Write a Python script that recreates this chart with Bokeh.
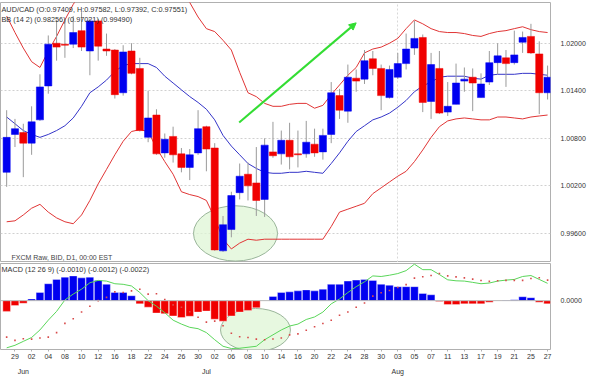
from bokeh.plotting import figure
from bokeh.layouts import column
from bokeh.models import (Range1d, LinearAxis, FixedTicker, Label, Arrow, NormalHead,
                          PrintfTickFormatter, ColumnDataSource, Span)
from bokeh.embed import file_html
from bokeh.resources import INLINE

# ---------------- data ----------------
tick_labels = ["29", "02", "04", "08", "10", "12", "16", "18", "22", "24", "26", "30",
               "02", "06", "08", "10", "14", "16", "20", "22", "24", "28", "30",
               "03", "05", "07", "11", "13", "17", "19", "21", "25", "27"]
tick_index = list(range(1, 66, 2))
month_labels = ["Jun", "Jul", "Aug"]
month_index = [2, 24, 47]

opens = [1.00371, 1.00849, 1.00873, 1.00739, 1.01033, 1.01461, 1.02000, 1.01988, 1.01988, 1.02159,
         1.01902, 1.02282, 1.01927, 1.01914, 1.01375, 1.01902, 1.01682, 1.00812, 1.01094, 1.00616,
         1.00824, 1.00604, 1.00433, 1.00616, 1.00947, 1.00678, 0.99380, 0.99649, 1.00114, 1.00347,
         1.00237, 1.00029, 1.00629, 1.00604, 1.00775, 1.00604, 1.00604, 1.00726, 1.00629, 1.00849,
         1.01339, 1.01143, 1.01559, 1.01547, 1.01804, 1.01682, 1.01314, 1.01571, 1.01743, 1.01939,
         1.02073, 1.01265, 1.01682, 1.01131, 1.01229, 1.01522, 1.01571, 1.01314, 1.01510, 1.01755,
         1.01816, 1.01755, 1.02012, 1.02086, 1.01865, 1.01375]
highs = [1.01155, 1.01045, 1.00984, 1.01204, 1.01608, 1.02098, 1.02294, 1.02306, 1.02343, 1.02392,
         1.02306, 1.02306, 1.02122, 1.01927, 1.01975, 1.02000, 1.01816, 1.01400, 1.01167, 1.00861,
         1.00947, 1.00678, 1.00665, 1.01155, 1.00959, 1.00739, 0.99820, 1.00126, 1.00482, 1.00494,
         1.00690, 1.00800, 1.01008, 1.00898, 1.00996, 1.00898, 1.01020, 1.00922, 1.00922, 1.01510,
         1.01424, 1.01731, 1.01669, 1.01914, 1.01902, 1.01731, 1.01718, 1.01878, 1.02122, 1.02282,
         1.02110, 1.01878, 1.01902, 1.01510, 1.01743, 1.01694, 1.01682, 1.01620, 1.01902, 1.02000,
         1.01914, 1.02159, 1.02147, 1.02245, 1.02024, 1.01718]
lows = [1.00188, 1.00690, 1.00310, 1.00592, 1.01020, 1.01363, 1.01780, 1.01816, 1.01939, 1.01902,
        1.01596, 1.01780, 1.01841, 1.01302, 1.01339, 1.01608, 1.00886, 1.00751, 1.00592, 1.00555,
        1.00494, 1.00371, 1.00273, 1.00592, 1.00384, 0.99380, 0.99367, 0.99551, 1.00029, 1.00016,
        0.99820, 0.99808, 1.00555, 1.00469, 1.00408, 1.00433, 1.00555, 1.00567, 1.00531, 1.00739,
        1.01045, 1.00996, 1.01388, 1.01486, 1.01596, 1.01155, 1.01302, 1.01547, 1.01669, 1.01853,
        1.01131, 1.01045, 1.01106, 1.01082, 1.01229, 1.01388, 1.01143, 1.01314, 1.01473, 1.01608,
        1.01449, 1.01731, 1.01878, 1.01865, 1.01106, 1.01290]
closes = [1.00812, 1.00922, 1.00739, 1.01008, 1.01449, 1.01988, 1.01951, 1.01975, 1.02135, 1.01951,
          1.02282, 1.01963, 1.01902, 1.01351, 1.01890, 1.01620, 1.00898, 1.01057, 1.00604, 1.00788,
          1.00592, 1.00433, 1.00592, 1.00922, 1.00665, 0.99392, 0.99710, 1.00078, 1.00322, 1.00200,
          1.00016, 1.00714, 1.00580, 1.00775, 1.00567, 1.00592, 1.00751, 1.00616, 1.00837, 1.01375,
          1.01155, 1.01571, 1.01522, 1.01780, 1.01682, 1.01339, 1.01669, 1.01743, 1.01927, 1.02061,
          1.01253, 1.01731, 1.01118, 1.01204, 1.01498, 1.01547, 1.01498, 1.01486, 1.01755, 1.01841,
          1.01743, 1.01853, 1.02073, 1.01878, 1.01375, 1.01571]

bb_upper = [1.02343, 1.02135, 1.01939, 1.01767, 1.01694, 1.01902, 1.02086, 1.02294, 1.02490, 1.02649,
            1.02796, 1.02918, 1.02980, 1.03016, 1.03041, 1.03041, 1.03016, 1.02980, 1.02918, 1.02820,
            1.02735, 1.02637, 1.02514, 1.02331, 1.02184, 1.02147, 1.02037, 1.01914, 1.01633, 1.01375,
            1.01326, 1.01241, 1.01204, 1.01204, 1.01229, 1.01241, 1.01241, 1.01180, 1.01216, 1.01351,
            1.01473, 1.01596, 1.01694, 1.01878, 1.01927, 1.01951, 1.02000, 1.02061, 1.02184, 1.02294,
            1.02245, 1.02184, 1.02147, 1.02135, 1.02135, 1.02122, 1.02098, 1.02086, 1.02122, 1.02147,
            1.02159, 1.02184, 1.02208, 1.02171, 1.02147, 1.02135]
bb_mid = [1.01069, 1.00984, 1.00898, 1.00849, 1.00812, 1.00849, 1.00898, 1.00959, 1.01057, 1.01204,
          1.01375, 1.01449, 1.01535, 1.01645, 1.01718, 1.01743, 1.01743, 1.01743, 1.01694, 1.01584,
          1.01498, 1.01412, 1.01327, 1.01253, 1.01167, 1.01033, 1.00837, 1.00702, 1.00592, 1.00482,
          1.00420, 1.00371, 1.00359, 1.00359, 1.00371, 1.00371, 1.00384, 1.00371, 1.00359, 1.00482,
          1.00616, 1.00763, 1.00886, 1.00959, 1.01033, 1.01069, 1.01118, 1.01192, 1.01278, 1.01388,
          1.01461, 1.01510, 1.01571, 1.01584, 1.01584, 1.01584, 1.01559, 1.01547, 1.01596, 1.01608,
          1.01608, 1.01608, 1.01620, 1.01620, 1.01608, 1.01596]
bb_lower = [0.99747, 0.99759, 0.99833, 0.99918, 0.99967, 0.99869, 0.99796, 0.99747, 0.99722, 0.99833,
            1.00016, 1.00225, 1.00408, 1.00592, 1.00763, 1.00886, 1.00910, 1.00886, 1.00678, 1.00506,
            1.00347, 1.00126, 1.00090, 1.00065, 1.00016, 0.99796, 0.99527, 0.99404, 0.99478, 0.99527,
            0.99514, 0.99527, 0.99527, 0.99527, 0.99527, 0.99527, 0.99527, 0.99527, 0.99527, 0.99686,
            0.99869, 0.99906, 0.99943, 0.99980, 1.00102, 1.00175, 1.00249, 1.00322, 1.00384, 1.00506,
            1.00653, 1.00812, 1.00947, 1.01020, 1.01045, 1.01057, 1.01045, 1.01033, 1.01033, 1.01069,
            1.01069, 1.01057, 1.01045, 1.01069, 1.01082, 1.01094]

macd = [-0.00483, -0.00457, -0.00417, -0.00377, -0.00300, -0.00200, -0.00110, 0.00007, 0.00067, 0.00117,
        0.00183, 0.00207, 0.00200, 0.00173, 0.00167, 0.00150, 0.00083, 0.00000, -0.00057, -0.00123,
        -0.00200, -0.00240, -0.00273, -0.00287, -0.00327, -0.00400, -0.00467, -0.00490, -0.00487, -0.00477,
        -0.00467, -0.00400, -0.00350, -0.00300, -0.00260, -0.00240, -0.00193, -0.00167, -0.00117, -0.00033,
        0.00017, 0.00083, 0.00143, 0.00193, 0.00253, 0.00247, 0.00260, 0.00277, 0.00307, 0.00373,
        0.00317, 0.00317, 0.00267, 0.00213, 0.00203, 0.00200, 0.00187, 0.00173, 0.00180, 0.00200,
        0.00210, 0.00217, 0.00247, 0.00257, 0.00217, 0.00177]
signal = [-0.00373, -0.00407, -0.00390, -0.00394, -0.00383, -0.00373, -0.00327, -0.00233, -0.00186, -0.00116,
          -0.00057, 0.00000, 0.00033, 0.00090, 0.00084, 0.00100, 0.00116, 0.00067, 0.00070, 0.00010,
          -0.00043, -0.00067, -0.00113, -0.00170, -0.00220, -0.00210, -0.00257, -0.00333, -0.00370, -0.00377,
          -0.00394, -0.00400, -0.00393, -0.00383, -0.00350, -0.00340, -0.00303, -0.00267, -0.00234, -0.00200,
          -0.00150, -0.00117, -0.00067, -0.00024, 0.00046, 0.00080, 0.00103, 0.00134, 0.00164, 0.00230,
          0.00244, 0.00257, 0.00277, 0.00253, 0.00243, 0.00233, 0.00220, 0.00206, 0.00197, 0.00203,
          0.00207, 0.00207, 0.00207, 0.00227, 0.00234, 0.00210]
hist = [-0.00110, -0.00050, -0.00027, 0.00017, 0.00083, 0.00173, 0.00217, 0.00240, 0.00253, 0.00233,
        0.00240, 0.00207, 0.00167, 0.00083, 0.00083, 0.00050, -0.00033, -0.00067, -0.00127, -0.00133,
        -0.00157, -0.00173, -0.00160, -0.00117, -0.00107, -0.00190, -0.00210, -0.00157, -0.00117, -0.00100,
        -0.00073, 0.00000, 0.00043, 0.00083, 0.00090, 0.00100, 0.00110, 0.00100, 0.00117, 0.00167,
        0.00167, 0.00200, 0.00210, 0.00217, 0.00207, 0.00167, 0.00157, 0.00143, 0.00143, 0.00143,
        0.00073, 0.00060, -0.00010, -0.00040, -0.00040, -0.00033, -0.00033, -0.00033, -0.00017, -0.00003,
        0.00003, 0.00010, 0.00040, 0.00030, -0.00017, -0.00033]

# ---------------- styling ----------------
FONT = "Liberation Sans"
BLUE = "#0000f0"
RED = "#f00000"
TXT = "#333333"
FRAME_W = 550
idx = list(range(len(opens)))

src = ColumnDataSource(dict(
    x=idx, o=opens, h=highs, l=lows, c=closes,
    top=[max(a, b) for a, b in zip(opens, closes)],
    bot=[min(a, b) for a, b in zip(opens, closes)],
    col=[BLUE if c >= o else RED for o, c in zip(opens, closes)],
    up=bb_upper, mid=bb_mid, lo=bb_lower,
))
msrc = ColumnDataSource(dict(
    x=idx, m=macd, s=signal, hst=hist,
    hcol=[BLUE if v >= 0 else RED for v in hist],
))

xr = Range1d(-0.74, 65.35)

# ---------------- price panel ----------------
p1 = figure(frame_width=FRAME_W, frame_height=260, x_range=xr,
            y_range=Range1d(0.99233, 1.02514), y_axis_location="right",
            output_backend="svg", toolbar_location=None,
            min_border_left=0, min_border_right=34, min_border_top=2, min_border_bottom=0)
p1.xaxis.visible = False
p1.outline_line_color = "#b0b0b0"
p1.yaxis.ticker = FixedTicker(ticks=[0.996, 1.002, 1.008, 1.014, 1.020])
p1.yaxis.formatter = PrintfTickFormatter(format="%.5f")
p1.yaxis.major_tick_line_color = None
p1.yaxis.minor_tick_line_color = None
p1.yaxis.axis_line_color = None
p1.yaxis.major_label_text_font = FONT
p1.yaxis.major_label_text_font_size = "7px"
p1.yaxis.major_label_text_color = TXT
p1.yaxis.major_label_standoff = 4
p1.ygrid.grid_line_color = "#d0d0d0"
p1.ygrid.grid_line_dash = "2 2"
p1.xgrid.ticker = FixedTicker(ticks=[47])
p1.xgrid.grid_line_color = "#d8d8d8"
p1.xgrid.grid_line_dash = "2 2"

# highlight ellipse (behind)
p1.ellipse(x=27.5, y=0.99600, width=10.1, height=0.00698,
           fill_color="#dff5d6", fill_alpha=0.75, line_color="#9ab59a", line_width=1)

# Bollinger bands
p1.line("x", "up", source=src, color="#e03535", line_width=1)
p1.line("x", "lo", source=src, color="#e03535", line_width=1)
p1.line("x", "mid", source=src, color="#3535c8", line_width=1)

# candles
p1.segment(x0="x", y0="l", x1="x", y1="h", source=src, color="#9a9a9a", line_width=1)
p1.vbar(x="x", top="top", bottom="bot", width=0.86, source=src,
        fill_color="col", line_color="col", line_width=0.5)

# arrow
p1.add_layout(Arrow(end=NormalHead(size=7, fill_color="#33dd33", line_color="#33dd33"),
                    x_start=27.94, y_start=1.01000, x_end=42.0, y_end=1.02257,
                    line_color="#33dd33", line_width=2))

p1.add_layout(Label(x=1, y=258, x_units="screen", y_units="screen", text_baseline="top",
                    text="AUD/CAD (O:0.97409, H:0.97582, L:0.97392, C:0.97551)",
                    text_font=FONT, text_font_size="7.3px", text_color=TXT))
p1.add_layout(Label(x=1, y=248, x_units="screen", y_units="screen", text_baseline="top",
                    text="BB (14 2) (0.98256) (0.97021) (0.99490)",
                    text_font=FONT, text_font_size="7.3px", text_color=TXT))
p1.add_layout(Label(x=11, y=2, x_units="screen", y_units="screen", text_baseline="bottom",
                    text="FXCM Raw, BID, D1, 00:00 EST",
                    text_font=FONT, text_font_size="7px", text_color="#444444"))

# ---------------- MACD panel ----------------
p2 = figure(frame_width=FRAME_W, frame_height=86, x_range=xr,
            y_range=Range1d(-0.0050, 0.0038), y_axis_location="right",
            output_backend="svg", toolbar_location=None,
            min_border_left=0, min_border_right=34, min_border_top=1, min_border_bottom=0)
p2.outline_line_color = "#b0b0b0"
p2.ygrid.visible = False
p2.xgrid.visible = False
p2.yaxis.ticker = FixedTicker(ticks=[0.0])
p2.yaxis.formatter = PrintfTickFormatter(format="%.4f")
p2.yaxis.major_tick_line_color = None
p2.yaxis.minor_tick_line_color = None
p2.yaxis.axis_line_color = None
p2.yaxis.major_label_text_font = FONT
p2.yaxis.major_label_text_font_size = "7px"
p2.yaxis.major_label_text_color = TXT
p2.yaxis.major_label_standoff = 4

p2.xaxis.ticker = FixedTicker(ticks=tick_index)
p2.xaxis.major_label_overrides = {i: t for i, t in zip(tick_index, tick_labels)}
p2.xaxis.major_tick_line_color = "#b0b0b0"
p2.xaxis.major_tick_out = 2
p2.xaxis.major_tick_in = 0
p2.xaxis.minor_tick_line_color = None
p2.xaxis.axis_line_color = None
p2.xaxis.major_label_text_font = FONT
p2.xaxis.major_label_text_font_size = "7px"
p2.xaxis.major_label_text_color = TXT
p2.xaxis.major_label_standoff = 2

month_axis = LinearAxis(ticker=FixedTicker(ticks=month_index),
                        major_label_overrides={i: m for i, m in zip(month_index, month_labels)},
                        major_tick_line_color=None, minor_tick_line_color=None,
                        axis_line_color=None, major_label_standoff=0,
                        major_label_text_font=FONT, major_label_text_font_size="7px",
                        major_label_text_color=TXT)
p2.add_layout(month_axis, "below")

p2.ellipse(x=29.9, y=-0.0030, width=8.4, height=0.0044,
           fill_color="#dff5d6", fill_alpha=0.75, line_color="#9ab59a", line_width=1)
p2.add_layout(Span(location=0, dimension="width", line_color="#b8b8b8", line_width=1))
p2.vbar(x="x", top="hst", bottom=0, width=0.92, source=msrc,
        fill_color="hcol", line_color="white", line_width=0.6, line_alpha=0.6)
p2.line("x", "m", source=msrc, color="#5ad65a", line_width=1)
p2.scatter("x", "s", source=msrc, marker="square", size=1.6, color="#d84a4a", line_width=0)

p2.add_layout(Label(x=1, y=85, x_units="screen", y_units="screen", text_baseline="top",
                    text="MACD (12 26 9)  (-0.0010) (-0.0012) (-0.0022)",
                    text_font=FONT, text_font_size="7.3px", text_color=TXT))

layout = column(p1, p2, spacing=0)
open("out.html", "w").write(file_html(layout, INLINE))
